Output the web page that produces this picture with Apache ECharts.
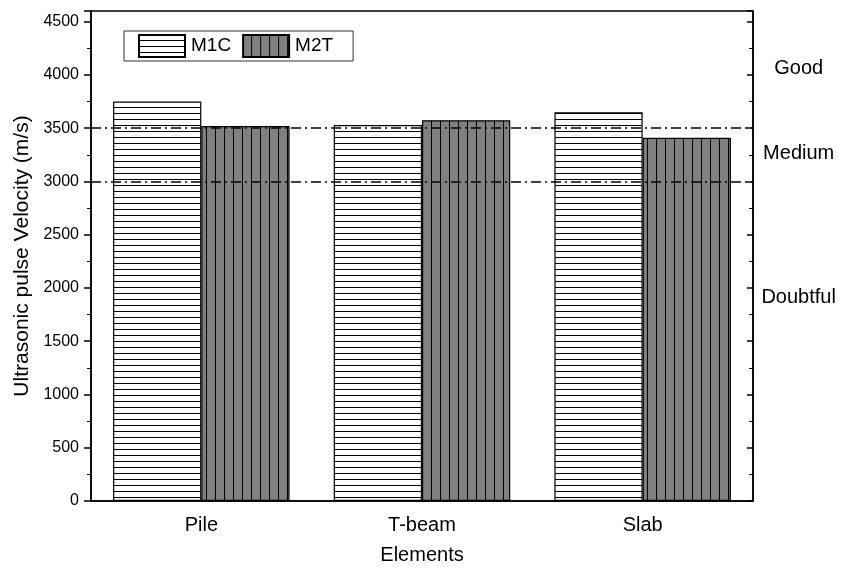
<!DOCTYPE html>
<html>
<head>
<meta charset="utf-8">
<script src="https://cdn.jsdelivr.net/npm/echarts@6/dist/echarts.min.js"></script>
<style>
  html, body { margin: 0; padding: 0; background: #fff; }
  #chart { width: 845px; height: 570px; }
</style>
</head>
<body>
<div id="chart"></div>
<script>
// data
const categories = ['Pile', 'T-beam', 'Slab']
const m1c = [3750, 3530, 3650]
const m2t = [3520, 3575, 3410]
const limits = [3500, 3000]
const zones = [
  { name: 'Good', value: 4060 },
  { name: 'Medium', value: 3260 },
  { name: 'Doubtful', value: 1910 }
]

const font = 'Liberation Sans, Arial, sans-serif'

// 横线填充
function hatchH() {
  let c = document.createElement('canvas')
  c.width = 8
  c.height = 6
  let ctx = c.getContext('2d')
  ctx.fillStyle = '#fff'
  ctx.fillRect(0, 0, 8, 6)
  ctx.fillStyle = '#000'
  ctx.fillRect(0, 5, 8, 1)
  return c
}
// 竖线填充
function hatchV() {
  let c = document.createElement('canvas')
  c.width = 9
  c.height = 8
  let ctx = c.getContext('2d')
  ctx.fillStyle = '#808080'
  ctx.fillRect(0, 0, 9, 8)
  ctx.fillStyle = '#000'
  ctx.fillRect(8, 0, 1, 8)
  return c
}

let myChart = echarts.init(document.getElementById('chart'))

const grid = { left: 91, right: 92, top: 11, bottom: 61 }

let option = {
  backgroundColor: '#fff',
  animation: false,
  textStyle: { fontFamily: font, color: '#000' },
  grid: Object.assign({ show: true, borderColor: '#000', borderWidth: 1.5, backgroundColor: 'transparent' }, grid),
  legend: {
    left: 124,
    top: 31,
    itemWidth: 46,
    itemHeight: 22,
    itemGap: 11,
    padding: [3, 20, 3, 14],
    borderColor: '#333',
    borderWidth: 1,
    icon: 'rect',
    textStyle: { fontSize: 19, fontFamily: font, color: '#000', padding: [0, 0, 0, 1] },
    data: ['M1C', 'M2T']
  },
  xAxis: [
    {
      type: 'category',
      data: categories,
      name: 'Elements',
      nameLocation: 'middle',
      nameGap: 44,
      nameTextStyle: { fontSize: 20, fontFamily: font, color: '#000' },
      axisLine: { lineStyle: { color: '#000', width: 1.5 } },
      axisTick: { alignWithLabel: true, length: 8, lineStyle: { color: '#000', width: 1.5 } },
      axisLabel: { fontSize: 20, color: '#000', margin: 14, fontFamily: font },
      splitLine: { show: false }
    },
    {
      // 类别边界的短刻度
      type: 'category',
      data: categories,
      position: 'bottom',
      axisLine: { show: false },
      axisTick: { length: 4, lineStyle: { color: '#000', width: 1.5 } },
      axisLabel: { show: false },
      splitLine: { show: false }
    }
  ],
  yAxis: [
    {
      type: 'value',
      min: 0,
      max: 4600,
      interval: 500,
      name: 'Ultrasonic pulse Velocity (m/s)',
      nameLocation: 'middle',
      nameGap: 58,
      nameTextStyle: { fontSize: 21, fontFamily: font, color: '#000' },
      axisLine: { show: true, lineStyle: { color: '#000', width: 1.5 } },
      axisTick: { show: true, length: 7, lineStyle: { color: '#000', width: 1.5 } },
      minorTick: { show: true, splitNumber: 2, length: 4, lineStyle: { color: '#000', width: 1 } },
      axisLabel: { fontSize: 16, color: '#000', margin: 12, fontFamily: font, showMaxLabel: false, formatter: v => String(v) },
      splitLine: { show: false }
    },
    {
      type: 'value',
      min: 0,
      max: 4600,
      interval: 500,
      position: 'right',
      axisLine: { show: true, lineStyle: { color: '#000', width: 1.5 } },
      axisTick: { show: true, inside: true, length: 6, lineStyle: { color: '#000', width: 1.5 } },
      minorTick: { show: true, splitNumber: 2, length: 4, lineStyle: { color: '#000', width: 1 } },
      axisLabel: { show: false },
      splitLine: { show: false }
    }
  ],
  series: [
    {
      name: 'M1C',
      type: 'bar',
      data: m1c,
      barWidth: '40%',
      barGap: '0%',
      itemStyle: {
        color: { image: hatchH(), repeat: 'repeat' },
        borderColor: '#000',
        borderWidth: 1.2
      },
      markLine: {
        silent: true,
        symbol: 'none',
        label: { show: false },
        lineStyle: { color: '#000', width: 1.5, type: [10, 4, 2, 4] },
        data: limits.map(v => ({ yAxis: v }))
      },
      z: 2
    },
    {
      name: 'M2T',
      type: 'bar',
      data: m2t,
      barWidth: '40%',
      barGap: '0%',
      itemStyle: {
        color: { image: hatchV(), repeat: 'repeat' },
        borderColor: '#000',
        borderWidth: 1.2
      },
      z: 2
    },
    {
      // 区间文字
      type: 'scatter',
      yAxisIndex: 1,
      xAxisIndex: 0,
      data: zones.map(z => ({ value: [2, z.value], name: z.name })),
      symbolSize: 1,
      itemStyle: { opacity: 0 },
      silent: true,
      clip: false,
      label: {
        show: true,
        formatter: '{b}',
        position: 'inside',
        offset: [156, 0],
        fontSize: 20,
        fontFamily: font,
        color: '#000',
        opacity: 1
      },
      z: 5
    }
  ]
}

myChart.setOption(option)
</script>
</body>
</html>
